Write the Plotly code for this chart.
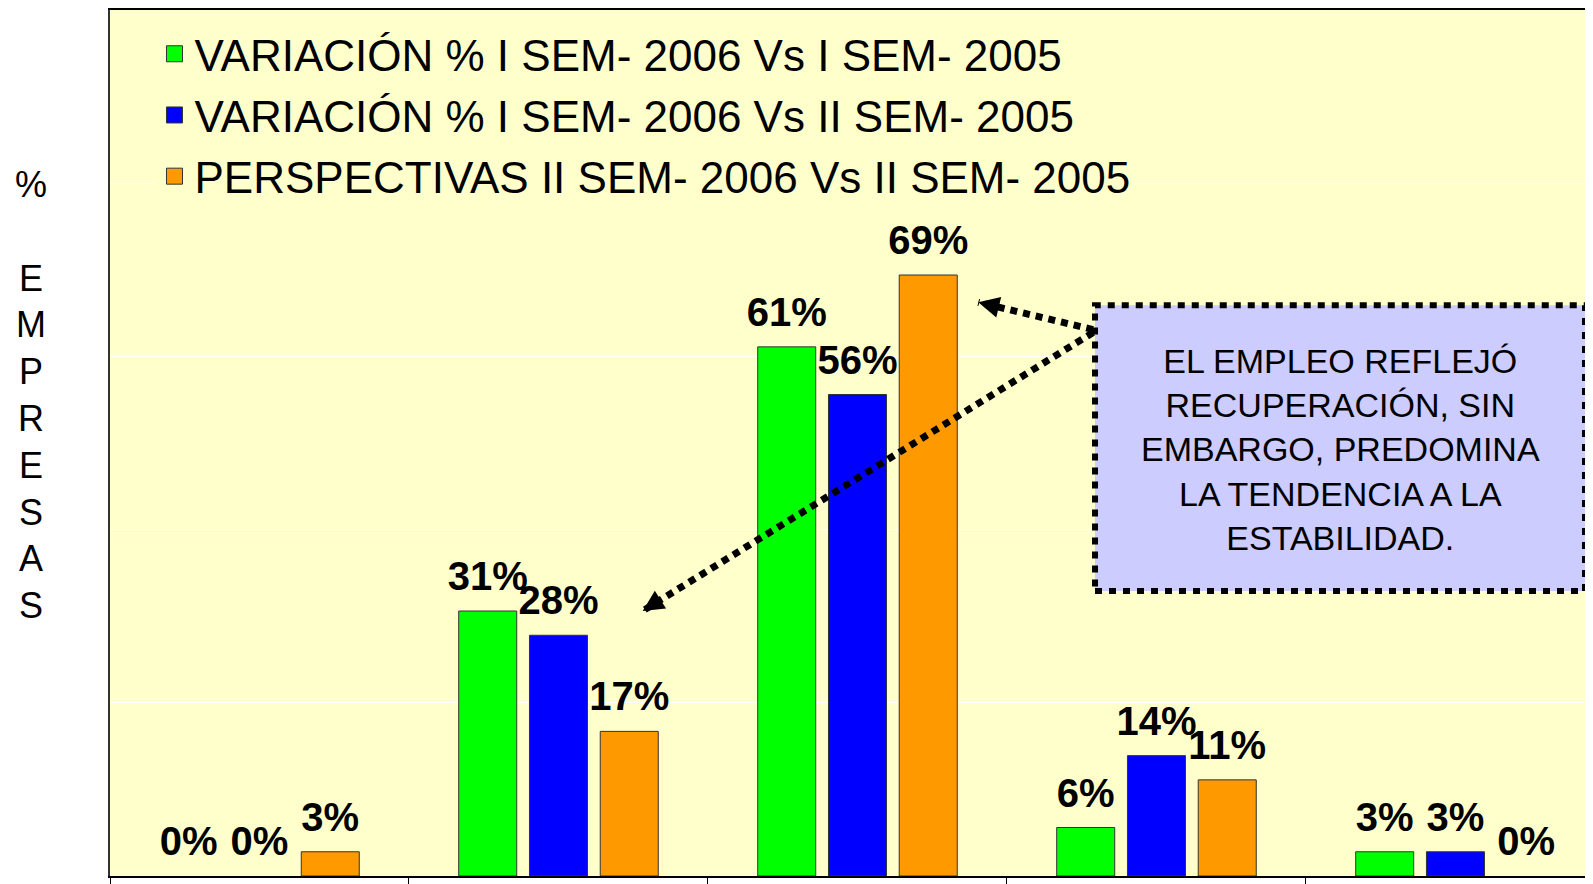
import plotly.graph_objects as go

categories = ["Cat 1", "Cat 2", "Cat 3", "Cat 4", "Cat 5"]
series_names = [
    "VARIACIÓN % I SEM- 2006 Vs I SEM- 2005",
    "VARIACIÓN % I SEM- 2006 Vs II SEM- 2005",
    "PERSPECTIVAS II SEM- 2006 Vs II SEM- 2005",
]
# % of companies (labels shown rounded)
var_i_vs_i = [0, 30.6, 61.1, 5.6, 2.8]
var_i_vs_ii = [0, 27.8, 55.6, 13.9, 2.8]
persp_ii_vs_ii = [2.8, 16.7, 69.4, 11.1, 0]
series_values = [var_i_vs_i, var_i_vs_ii, persp_ii_vs_ii]
series_colors = ["#00FF00", "#0000FF", "#FF9900"]

note_text = ("EL EMPLEO REFLEJÓ<br>RECUPERACIÓN, SIN<br>EMBARGO, PREDOMINA"
             "<br>LA TENDENCIA A LA<br>ESTABILIDAD.")
y_title = "%<br><br>E<br>M<br>P<br>R<br>E<br>S<br>A<br>S"

FONT = "Liberation Sans, Arial, sans-serif"
GAP = 0.29

fig = go.Figure()
for i, (name, vals, col) in enumerate(zip(series_names, series_values, series_colors)):
    grp = f"g{i}"
    fig.add_trace(go.Bar(
        x=categories, y=vals, name=name, offsetgroup=grp, showlegend=False,
        marker=dict(color=col,
                    line=dict(color="#333333", width=[1 if v else 0 for v in vals])),
        hoverinfo="skip",
    ))
    # value labels, grouped like the bars
    fig.add_trace(go.Scatter(
        x=categories, y=vals, mode="markers+text", offsetgroup=grp,
        texttemplate="%{y:.0f}%", textposition="top center",
        marker=dict(size=16, color="rgba(0,0,0,0)"),
        textfont=dict(family=FONT, size=40, color="black", weight="bold"),
        showlegend=False, cliponaxis=False, hoverinfo="skip",
    ))
    # legend entry
    fig.add_trace(go.Scatter(
        x=[None], y=[None], mode="markers", name=name, offsetgroup=grp,
        legendgroup=name,
        marker=dict(symbol="square", size=16, color=col,
                    line=dict(color="#333333", width=1)),
    ))

fig.update_layout(
    width=1585, height=876,
    margin=dict(l=102, r=0, t=0, b=6),
    paper_bgcolor="white", plot_bgcolor="#FFFFCC",
    barmode="group", bargap=GAP, bargroupgap=0.18,
    scattermode="group", scattergap=GAP,
    font=dict(family=FONT, color="black"),
    showlegend=True,
    legend=dict(
        x=0.03, y=0.99, xanchor="left", yanchor="top",
        bgcolor="#FFFFCC", font=dict(family=FONT, size=44),
        tracegroupgap=1, itemsizing="trace", itemwidth=30,
    ),
    xaxis=dict(
        range=[-0.5, 4.46], showticklabels=False, showgrid=False,
        showline=True, linecolor="black", linewidth=1.5, mirror=True,
        ticks="outside", tickson="boundaries", ticklen=8, tickcolor="black",
    ),
    yaxis=dict(
        range=[0, 100], dtick=20, showticklabels=False,
        showgrid=True, gridcolor="white", gridwidth=1,
        showline=True, linecolor="#333333", linewidth=1.5,
        zeroline=False,
    ),
)

fig.add_annotation(
    text=y_title, xref="paper", yref="paper", x=-0.0533, y=0.555,
    xanchor="center", yanchor="middle", showarrow=False,
    font=dict(family=FONT, size=36, color="black"),
)

# note box
fig.add_shape(type="rect", xref="paper", yref="paper",
              x0=0.6642, x1=0.9946, y0=0.329, y1=0.659,
              fillcolor="#CCCCFF", line=dict(color="black", width=6, dash="7px,7px"))
fig.add_annotation(
    text=note_text, xref="paper", yref="paper", x=0.8294, y=0.492,
    xanchor="center", yanchor="middle", showarrow=False, align="center",
    font=dict(family=FONT, size=34, color="black"),
)

# dotted arrows
arrows = [
    ((0.6629, 0.631), (0.5855, 0.6624), 21, 5),
    ((0.6629, 0.6276), (0.3592, 0.3061), 19, -12),
]
for (sx, sy), (ex, ey), ax, ay in arrows:
    fig.add_shape(type="line", xref="paper", yref="paper",
                  x0=sx, y0=sy, x1=ex, y1=ey,
                  line=dict(color="black", width=7, dash="7px,6px"))
    fig.add_annotation(x=ex, y=ey, xref="paper", yref="paper", text="",
                       showarrow=True, arrowhead=2, arrowsize=1.4,
                       arrowwidth=3, arrowcolor="black", ax=ax, ay=ay,
                       standoff=0)

fig.write_html("out.html")
